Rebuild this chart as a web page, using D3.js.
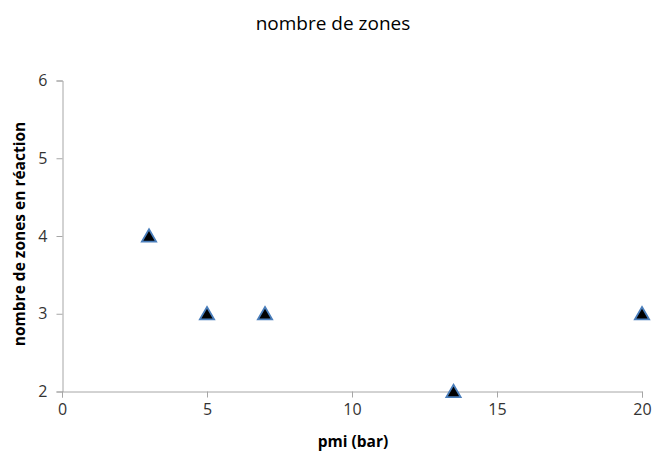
<!DOCTYPE html>
<html><head><meta charset="utf-8">
<script src="https://cdn.jsdelivr.net/npm/d3@7"></script>
<style>body{margin:0;background:#fff;} text{font-family:"Open Sans","Liberation Sans",sans-serif;}</style>
</head><body>
<svg id="c" width="656" height="455"></svg>
<script>
const xValues = [3, 5, 7, 13.5, 20];
const yValues = [4, 3, 3, 2, 3];
const xTicks = [0, 5, 10, 15, 20];
const yTicks = [2, 3, 4, 5, 6];
const title = "nombre de zones";
const xLabel = "pmi (bar)";
const yLabel = "nombre de zones en réaction";

const svg = d3.select("#c");
const x = d3.scaleLinear().domain([0, 20]).range([62, 642]);
const y = d3.scaleLinear().domain([2, 6]).range([391.5, 80.5]);

svg.append("text").attr("x", 333).attr("y", 30).attr("text-anchor", "middle")
  .attr("font-size", 19).attr("fill", "#000").text(title);

const xa = svg.append("g").attr("transform", "translate(0,391.5)")
  .call(d3.axisBottom(x).tickValues(xTicks).tickFormat(d3.format("d")).tickSize(6).tickPadding(6));
const ya = svg.append("g").attr("transform", "translate(62.5,0)")
  .call(d3.axisLeft(y).tickValues(yTicks).tickFormat(d3.format("d")).tickSize(6).tickPadding(9));
[xa, ya].forEach(a => {
  a.selectAll("path,line").attr("stroke", "#a6a6a6");
  a.selectAll("text").attr("font-size", 16).attr("fill", "#333");
});

svg.append("text").attr("x", 353).attr("y", 447).attr("text-anchor", "middle")
  .attr("font-size", 15.5).attr("font-weight", "bold").text(xLabel);
svg.append("text").attr("transform", "translate(25,234) rotate(-90)").attr("text-anchor", "middle")
  .attr("font-size", 15.5).attr("font-weight", "bold").text(yLabel);

const tri = d3.symbol().type(d3.symbolTriangle).size(88);
svg.append("g").selectAll("path").data(xValues.map((v, i) => [v, yValues[i]]))
  .join("path").attr("d", tri)
  .attr("transform", d => `translate(${x(d[0])},${y(d[1]) + 1.5})`)
  .attr("fill", "#000").attr("stroke", "#4a7ebb").attr("stroke-width", 1.8);
</script>
</body></html>
